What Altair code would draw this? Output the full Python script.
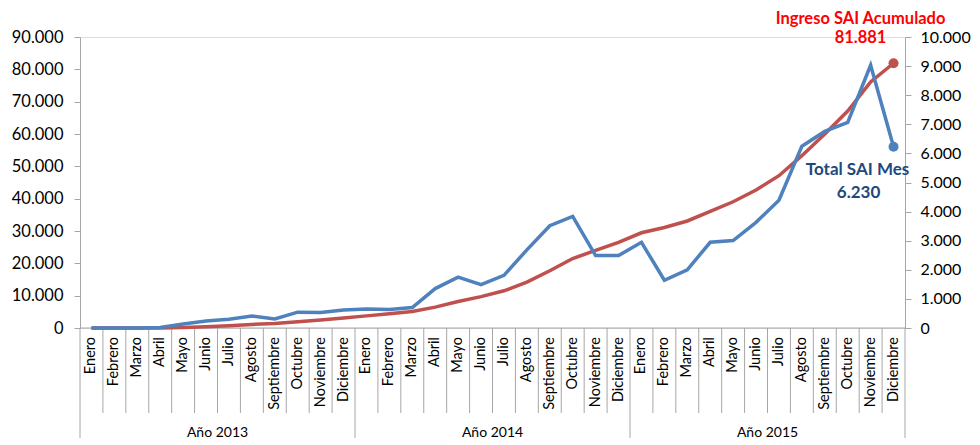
import altair as alt
import pandas as pd

months = ["Enero", "Febrero", "Marzo", "Abril", "Mayo", "Junio", "Julio",
          "Agosto", "Septiembre", "Octubre", "Noviembre", "Diciembre"]
years = ["Año 2013", "Año 2014", "Año 2015"]

# Total SAI Mes (right axis)
monthly_sai = [0, 0, 0, 20, 140, 240, 300, 410, 310, 545, 535, 615,
               650, 640, 705, 1355, 1750, 1490, 1810, 2685, 3515, 3835, 2490, 2490,
               2945, 1640, 2000, 2945, 3005, 3630, 4390, 6245, 6755, 7065, 9030, 6230]
# Ingreso SAI Acumulado (left axis)
cumulative_sai = [0, 0, 0, 20, 160, 400, 700, 1100, 1400, 1950, 2500, 3100,
                  3750, 4400, 5100, 6450, 8200, 9700, 11500, 14200, 17700, 21500, 24000, 26500,
                  29450, 31100, 33100, 36050, 39050, 42700, 47100, 53300, 60000, 67100, 76100, 81881]

left_ticks = [0, 10000, 20000, 30000, 40000, 50000, 60000, 70000, 80000, 90000]
right_ticks = [0, 1000, 2000, 3000, 4000, 5000, 6000, 7000, 8000, 9000, 10000]

n = len(monthly_sai)
rows = []
for i in range(n):
    rows.append({"idx": i, "pos": i + 0.5, "month": months[i % 12],
                 "monthly": monthly_sai[i], "cumul": cumulative_sai[i]})
df = pd.DataFrame(rows)
last = n - 1

def fmt(v):
    return f"{v:,}".replace(",", ".")

FONT = "Lato"
RED = "#c0504d"
BLUE = "#4f81bd"
GRAY = "#a6a6a6"
H = 291

xs = alt.Scale(domain=[0, n], nice=False, zero=False)
ys_left = alt.Scale(domain=[0, 90000], nice=False)
ys_right = alt.Scale(domain=[0, 10000], nice=False)
label_expr = "replace(format(datum.value, ','), ',', '.')"

base = alt.Chart(df)

red_line = base.mark_line(color=RED, strokeWidth=3.5).encode(
    x=alt.X("pos:Q", scale=xs, axis=None),
    y=alt.Y("cumul:Q", scale=ys_left, axis=alt.Axis(
        orient="left", values=left_ticks, labelExpr=label_expr, grid=False, title=None,
        domainColor=GRAY, tickColor=GRAY, tickSize=6, labelPadding=11,
        labelFontSize=16.5, labelFont=FONT, labelColor="#000000")),
)
red_point = base.mark_circle(color=RED, size=100, opacity=1).encode(
    x=alt.X("pos:Q", scale=xs, axis=None),
    y=alt.Y("cumul:Q", scale=ys_left, axis=None),
).transform_filter(alt.datum.idx == last)

blue_line = base.mark_line(color=BLUE, strokeWidth=3.5).encode(
    x=alt.X("pos:Q", scale=xs, axis=None),
    y=alt.Y("monthly:Q", scale=ys_right, axis=alt.Axis(
        orient="right", values=right_ticks, labelExpr=label_expr, grid=False, title=None,
        domainColor=GRAY, tickColor=GRAY, tickSize=6, labelPadding=9,
        labelFontSize=16, labelFont=FONT, labelColor="#000000")),
)
blue_point = base.mark_circle(color=BLUE, size=100, opacity=1).encode(
    x=alt.X("pos:Q", scale=xs, axis=None),
    y=alt.Y("monthly:Q", scale=ys_right, axis=None),
).transform_filter(alt.datum.idx == last)

def ann(field, scale, text, color, dx, dy, size=17):
    return base.mark_text(font=FONT, fontSize=size, fontWeight="bold", color=color,
                          dx=dx, dy=dy, align="center", baseline="middle").encode(
        x=alt.X("pos:Q", scale=xs, axis=None),
        y=alt.Y(f"{field}:Q", scale=scale, axis=None),
        text=alt.value(text),
    ).transform_filter(alt.datum.idx == last)

ann1 = ann("cumul", ys_left, "Ingreso SAI Acumulado", "#ff0000", -33, -44, 16.5)
ann2 = ann("cumul", ys_left, fmt(cumulative_sai[-1]), "#ff0000", -33, -25, 16.5)
ann3 = ann("monthly", ys_right, "Total SAI Mes", "#1f497d", -36, 23)
ann4 = ann("monthly", ys_right, fmt(monthly_sai[-1]), "#1f497d", -35, 46)

# bottom axis line and category separators
bound_df = pd.DataFrame({"b": list(range(n + 1))})
bound_df["major"] = bound_df["b"] % 12 == 0
axis_line = alt.Chart(pd.DataFrame({"a": [0], "b": [n]})).mark_rule(color=GRAY, strokeWidth=1).encode(
    x=alt.X("a:Q", scale=xs, axis=None), x2="b:Q", y=alt.value(H))

minor_sep = alt.Chart(bound_df).mark_rule(color=GRAY, strokeWidth=1).encode(
    x=alt.X("b:Q", scale=xs, axis=None), y=alt.value(H), y2=alt.value(H + 85),
).transform_filter("!datum.major")
major_sep = alt.Chart(bound_df).mark_rule(color=GRAY, strokeWidth=1).encode(
    x=alt.X("b:Q", scale=xs, axis=None), y=alt.value(H), y2=alt.value(H + 110),
).transform_filter("datum.major")

month_labels = base.mark_text(font=FONT, fontSize=14.5, color="#000000", angle=270,
                              align="right", baseline="middle").encode(
    x=alt.X("pos:Q", scale=xs, axis=None),
    y=alt.value(H + 9),
    text="month:N",
)

year_df = pd.DataFrame({"year": years, "c": [6, 18, 30]})
year_labels = alt.Chart(year_df).mark_text(font=FONT, fontSize=14, color="#000000",
                                           align="center", baseline="middle").encode(
    x=alt.X("c:Q", scale=xs, axis=None),
    y=alt.value(H + 105),
    text="year:N",
)

chart = alt.layer(
    axis_line, minor_sep, major_sep, month_labels, year_labels,
    red_line, blue_line, red_point, blue_point, ann1, ann2, ann3, ann4,
).resolve_scale(y="independent").properties(
    width=825, height=H,
    autosize=alt.AutoSizeParams(type="none"),
    padding={"left": 72, "top": 29, "right": 67, "bottom": 112},
).configure_view(stroke=None).configure(background="#ffffff")

chart.save("out.html", embed_options={"renderer": "svg", "actions": False})
